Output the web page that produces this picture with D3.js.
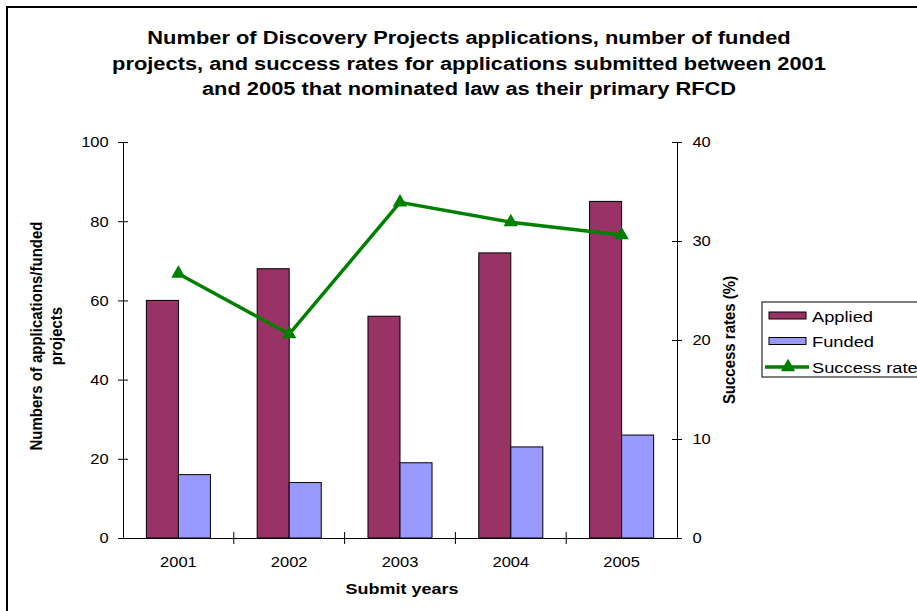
<!DOCTYPE html>
<html>
<head>
<meta charset="utf-8">
<script src="https://cdn.jsdelivr.net/npm/d3@7"></script>
<style>
  body { margin: 0; background: #fff; }
  svg { display: block; font-family: "Liberation Sans", Arial, sans-serif; }
</style>
</head>
<body>
<svg id="chart"></svg>
<script>
const years = ["2001", "2002", "2003", "2004", "2005"];
const applied = [60, 68, 56, 72, 85];
const funded = [16, 14, 19, 23, 26];
const successRate = [26.7, 20.6, 33.9, 31.9, 30.6];
const leftTicks = [0, 20, 40, 60, 80, 100];
const rightTicks = [0, 10, 20, 30, 40];
const titleLines = [
  "Number of Discovery Projects applications, number of funded",
  "projects, and success rates for applications submitted between 2001",
  "and 2005 that nominated law as their primary RFCD",
];

const colors = { Applied: "#993366", Funded: "#9999ff", line: "#008000" };

const svgWidth = 917;
const svgHeight = 611;
const m_left = 123;
const m_right = 917 - 677;
const m_top = 142;
const m_bottom = 611 - 538;
const width = svgWidth - m_left - m_right;
const height = svgHeight - m_top - m_bottom;

// the source picture is a little stretched sideways, so horizontal text is widened
const stretch = (sel, x, y, sx) =>
  sel.attr("transform", `translate(${x},${y}) scale(${sx},1)`);

const svg = d3.select("#chart").attr("width", svgWidth).attr("height", svgHeight);

// outer frame
svg.append("rect")
  .attr("x", 7).attr("y", 7)
  .attr("width", 1000).attr("height", 1000)
  .attr("fill", "none").attr("stroke", "#000").attr("stroke-width", 2);

// title
svg.append("g")
  .selectAll("text")
  .data(titleLines)
  .join("text")
  .each(function (d, i) { stretch(d3.select(this), 469, 44 + i * 25.5, 1.15); })
  .attr("text-anchor", "middle")
  .style("font-size", "19px")
  .style("font-weight", "bold")
  .text((d) => d);

const chart = svg.append("g").attr("transform", `translate(${m_left}, ${m_top})`);

const xScale = d3.scaleBand().domain(years).range([0, width]).padding(0);
const xInner = d3.scaleBand()
  .domain(["Applied", "Funded"])
  .range([0, xScale.bandwidth()])
  .paddingInner(0)
  .paddingOuter(0.73);
const yLeft = d3.scaleLinear().domain([0, 100]).range([height, 0]);
const yRight = d3.scaleLinear().domain([0, 40]).range([height, 0]);

// bars
const groups = chart.selectAll(".year")
  .data(years)
  .join("g")
  .attr("class", "year")
  .attr("transform", (d) => `translate(${xScale(d)},0)`);

groups.selectAll("rect")
  .data((d, i) => [
    { key: "Applied", value: applied[i] },
    { key: "Funded", value: funded[i] },
  ])
  .join("rect")
  .attr("x", (d) => xInner(d.key))
  .attr("y", (d) => yLeft(d.value))
  .attr("width", xInner.bandwidth())
  .attr("height", (d) => height - yLeft(d.value))
  .attr("fill", (d) => colors[d.key])
  .attr("stroke", "#000")
  .attr("stroke-width", 1);

// axes
const tickStyle = (g) => {
  g.select(".domain").attr("stroke", "#000");
  g.selectAll(".tick line").attr("stroke", "#000");
  g.selectAll(".tick text").style("font-size", "15px").attr("fill", "#000");
};

const leftAxis = chart.append("g")
  .call(d3.axisLeft(yLeft).tickValues(leftTicks).tickSize(5).tickSizeOuter(0).tickPadding(9))
  .call(tickStyle);
leftAxis.selectAll(".tick line").attr("x1", 5);
leftAxis.selectAll(".tick text").attr("x", -13).attr("transform", "scale(1.1,1)");

const rightAxis = chart.append("g")
  .attr("transform", `translate(${width},0)`)
  .call(d3.axisRight(yRight).tickValues(rightTicks).tickSize(5).tickSizeOuter(0).tickPadding(10))
  .call(tickStyle);
rightAxis.selectAll(".tick line").attr("x1", -5);
rightAxis.selectAll(".tick text").attr("x", 14).attr("transform", "scale(1.1,1)");

const xAxis = chart.append("g")
  .attr("transform", `translate(0, ${height})`)
  .call(d3.axisBottom(xScale).tickSize(0).tickSizeOuter(0).tickPadding(18))
  .call(tickStyle);
xAxis.selectAll(".tick text").attr("transform", "scale(1.1,1)");

// boundary ticks between categories
chart.append("g")
  .selectAll("line")
  .data(years.slice(1))
  .join("line")
  .attr("x1", (d) => xScale(d))
  .attr("x2", (d) => xScale(d))
  .attr("y1", height - 6)
  .attr("y2", height + 6)
  .attr("stroke", "#000");

// success rate line
const lineGen = d3.line()
  .x((d, i) => xScale(years[i]) + xScale.bandwidth() / 2)
  .y((d) => yRight(d));

chart.append("path")
  .datum(successRate)
  .attr("d", lineGen)
  .attr("fill", "none")
  .attr("stroke", colors.line)
  .attr("stroke-width", 3.5);

chart.selectAll(".marker")
  .data(successRate)
  .join("path")
  .attr("class", "marker")
  .attr("transform", (d, i) => `translate(${xScale(years[i]) + xScale.bandwidth() / 2}, ${yRight(d)})`)
  .attr("d", d3.symbol().type(d3.symbolTriangle).size(90))
  .attr("fill", colors.line);

// axis labels
svg.append("text")
  .attr("transform", "translate(42, 336) rotate(-90) scale(1,1.1)")
  .attr("text-anchor", "middle")
  .style("font-size", "15px")
  .style("font-weight", "bold")
  .selectAll("tspan")
  .data(["Numbers of applications/funded", "projects"])
  .join("tspan")
  .attr("x", 0)
  .attr("dy", (d, i) => (i === 0 ? 0 : 18))
  .text((d) => d);

svg.append("text")
  .attr("transform", "translate(735, 340) rotate(-90) scale(1,1.1)")
  .attr("text-anchor", "middle")
  .style("font-size", "15px")
  .style("font-weight", "bold")
  .text("Success rates (%)");

svg.append("text")
  .call(stretch, 402, 594, 1.2)
  .attr("text-anchor", "middle")
  .style("font-size", "15px")
  .style("font-weight", "bold")
  .text("Submit years");

// legend
const legend = svg.append("g").attr("transform", "translate(762, 302)");
legend.append("rect")
  .attr("width", 200).attr("height", 75)
  .attr("fill", "#fff").attr("stroke", "#000").attr("stroke-width", 1);

const legendItems = ["Applied", "Funded", "Success rate"];
const legendY = d3.scalePoint().domain(legendItems).range([14, 65]);

legendItems.slice(0, 2).forEach((k) => {
  legend.append("rect")
    .attr("x", 7).attr("y", legendY(k) - 4)
    .attr("width", 37).attr("height", 7)
    .attr("fill", colors[k]).attr("stroke", "#000");
});
legend.append("line")
  .attr("x1", 3).attr("x2", 47)
  .attr("y1", legendY("Success rate")).attr("y2", legendY("Success rate"))
  .attr("stroke", colors.line).attr("stroke-width", 3.5);
legend.append("path")
  .attr("transform", `translate(26, ${legendY("Success rate")})`)
  .attr("d", d3.symbol().type(d3.symbolTriangle).size(90))
  .attr("fill", colors.line);

legend.selectAll(".ltext")
  .data(legendItems)
  .join("text")
  .attr("class", "ltext")
  .each(function (d) { stretch(d3.select(this), 50, legendY(d) + 5.5, 1.22); })
  .style("font-size", "15px")
  .text((d) => d);
</script>
</body>
</html>
